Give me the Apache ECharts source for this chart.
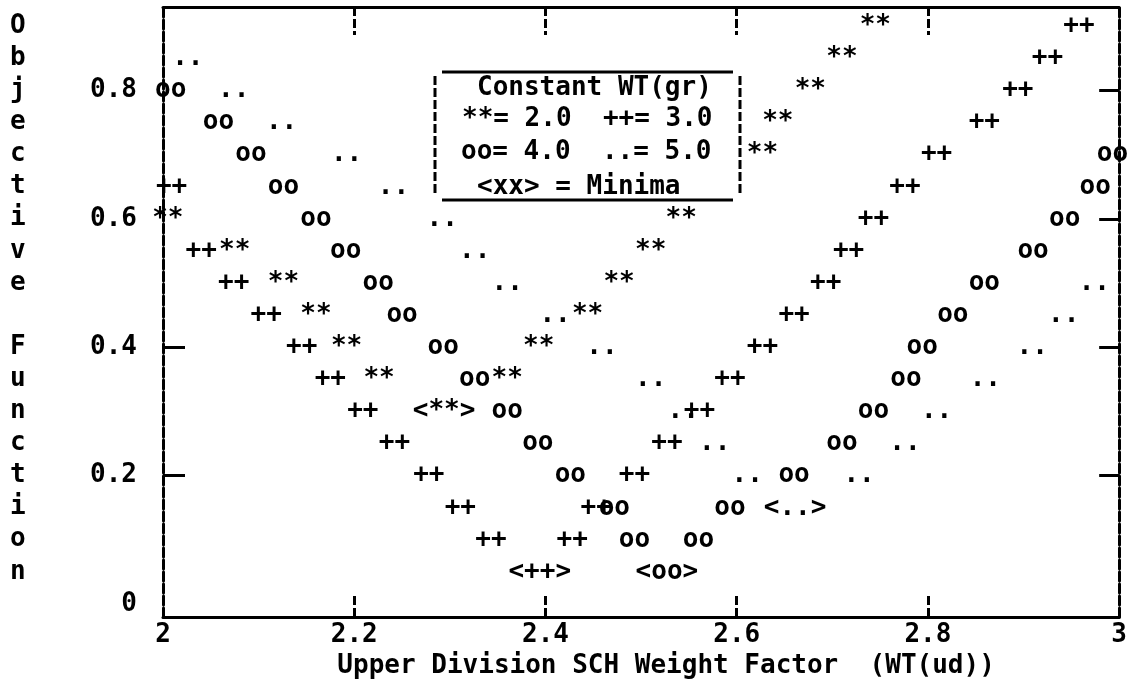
<!DOCTYPE html>
<html>
<head>
<meta charset="utf-8">
<script src="https://cdn.jsdelivr.net/npm/echarts@6/dist/echarts.min.js"></script>
<style>
  html, body { margin: 0; padding: 0; background: #fff; }
  #chart { width: 1130px; height: 685px; }
</style>
</head>
<body>
<div id="chart"></div>
<script>
const FONT = "'DejaVu Sans Mono', monospace";

// objective function vs WT(ud), one curve per constant WT(gr)
const wtGr2 = [ // "**" = 2.0
  [2.005, 0.60], [2.075, 0.55], [2.126, 0.50], [2.160, 0.45], [2.192, 0.40], [2.226, 0.35],
  [2.360, 0.35], [2.393, 0.40], [2.444, 0.45], [2.477, 0.50], [2.510, 0.55], [2.542, 0.60],
  [2.627, 0.70], [2.643, 0.75], [2.677, 0.80], [2.710, 0.85], [2.745, 0.90]
];
const wtGr3 = [ // "++" = 3.0
  [2.009, 0.65], [2.040, 0.55], [2.074, 0.50], [2.108, 0.45], [2.145, 0.40], [2.175, 0.35],
  [2.209, 0.30], [2.242, 0.25], [2.278, 0.20], [2.311, 0.15], [2.343, 0.10],
  [2.428, 0.10], [2.453, 0.15], [2.493, 0.20], [2.527, 0.25], [2.561, 0.30], [2.593, 0.35],
  [2.627, 0.40], [2.660, 0.45], [2.693, 0.50], [2.717, 0.55], [2.743, 0.60], [2.776, 0.65],
  [2.809, 0.70], [2.859, 0.75], [2.894, 0.80], [2.925, 0.85], [2.958, 0.90]
];
const wtGr4 = [ // "oo" = 4.0
  [2.008, 0.80], [2.058, 0.75], [2.092, 0.70], [2.126, 0.65], [2.160, 0.60], [2.191, 0.55],
  [2.225, 0.50], [2.250, 0.45], [2.293, 0.40], [2.326, 0.35], [2.360, 0.30], [2.392, 0.25],
  [2.426, 0.20], [2.472, 0.15], [2.493, 0.10],
  [2.560, 0.10], [2.593, 0.15], [2.660, 0.20], [2.710, 0.25], [2.743, 0.30], [2.777, 0.35],
  [2.794, 0.40], [2.826, 0.45], [2.859, 0.50], [2.910, 0.55], [2.943, 0.60], [2.975, 0.65],
  [2.993, 0.70]
];
const wtGr5 = [ // ".." = 5.0
  [2.026, 0.85], [2.074, 0.80], [2.124, 0.75], [2.192, 0.70], [2.241, 0.65], [2.292, 0.60],
  [2.326, 0.55], [2.360, 0.50], [2.410, 0.45], [2.459, 0.40], [2.510, 0.35], [2.544, 0.30],
  [2.577, 0.25], [2.611, 0.20],
  [2.728, 0.20], [2.776, 0.25], [2.809, 0.30], [2.860, 0.35], [2.909, 0.40], [2.942, 0.45],
  [2.974, 0.50]
];
const minGr2 = [[2.294, 0.30]];
const minGr3 = [[2.394, 0.05]];
const minGr4 = [[2.527, 0.05]];
const minGr5 = [[2.661, 0.15]];

const xTicks = [2.2, 2.4, 2.6, 2.8];
const yLabels = [0, 0.2, 0.4, 0.6, 0.8];
const yTicksLeft = [0.2, 0.4];
const yTicksRight = [0.2, 0.4, 0.6, 0.8];
const xTitle = 'Upper Division SCH Weight Factor  (WT(ud))';
const yTitle = 'Objective Function';
const legendLines = ['Constant WT(gr)', '**= 2.0  ++= 3.0', 'oo= 4.0  ..= 5.0', '<xx> = Minima'];

const txt = { fontFamily: FONT, fontSize: 26, fontWeight: 'bold', color: '#000' };
const dashed = { color: '#000', width: 3, type: [9, 3] };
const solid = { color: '#000', width: 3 };

const markSeries = (data, mark) => ({
  type: 'scatter',
  data: data,
  symbolSize: 0,
  silent: true,
  xAxisIndex: 0,
  yAxisIndex: 0,
  itemStyle: { opacity: 1, color: '#000' },
  label: {
    show: true,
    position: 'inside',
    formatter: mark,
    ...txt,
    opacity: 1,
    textBorderWidth: 0,
    textBorderColor: 'transparent',
  },
});

const chart = echarts.init(document.getElementById('chart'));

const option = {
  animation: false,
  textStyle: { fontFamily: FONT },
  grid: { left: 163, right: 8, top: 7, bottom: 68 },
  xAxis: [
    {
      type: 'value',
      min: 2,
      max: 3,
      interval: 0.2,
      position: 'bottom',
      axisLine: { show: true, onZero: false, lineStyle: solid },
      axisTick: { show: true, inside: true, length: 24, customValues: xTicks, lineStyle: dashed },
      axisLabel: { ...txt, margin: 5, formatter: (v) => String(Math.round(v * 10) / 10) },
      splitLine: { show: false },
      name: xTitle,
      nameLocation: 'middle',
      nameGap: 32,
      nameTextStyle: { ...txt, padding: [0, 0, 0, 50] },
    },
    {
      type: 'value',
      min: 2,
      max: 3,
      interval: 0.2,
      position: 'top',
      axisLine: { show: true, onZero: false, lineStyle: solid },
      axisTick: { show: true, inside: true, length: 28, customValues: xTicks, lineStyle: dashed },
      axisLabel: { show: false },
      splitLine: { show: false },
    },
  ],
  yAxis: [
    {
      type: 'value',
      min: -0.02,
      max: 0.93,
      position: 'left',
      axisLine: { show: true, onZero: false, lineStyle: dashed },
      axisTick: { show: true, inside: true, length: 22, customValues: yTicksLeft, lineStyle: solid },
      axisLabel: {
        ...txt,
        margin: 26,
        customValues: yLabels,
        formatter: (v) => (v === 0 ? '0' : v.toFixed(1)),
      },
      splitLine: { show: false },
    },
    {
      type: 'value',
      min: -0.02,
      max: 0.93,
      position: 'right',
      axisLine: { show: true, onZero: false, lineStyle: dashed },
      axisTick: { show: true, inside: true, length: 20, customValues: yTicksRight, lineStyle: solid },
      axisLabel: { show: false },
      splitLine: { show: false },
    },
  ],
  series: [
    markSeries(wtGr2, '**'),
    markSeries(wtGr3, '++'),
    markSeries(wtGr4, 'oo'),
    markSeries(wtGr5, '..'),
    markSeries(minGr2, '<**>'),
    markSeries(minGr3, '<++>'),
    markSeries(minGr4, '<oo>'),
    markSeries(minGr5, '<..>'),
  ],
  graphic: [
    {
      type: 'text',
      z: 100,
      left: 10,
      top: 10,
      style: {
        text: yTitle.split('').map((c) => (c === ' ' ? '' : c)).join('\n'),
        font: 'bold 26px ' + FONT,
        fill: '#000',
        lineHeight: 32.1,
        align: 'center',
        x: 9,
      },
    },
    {
      type: 'group',
      z: 100,
      children: [
        { type: 'rect', z: 100, shape: { x: 435, y: 72, width: 305, height: 128 }, style: { fill: '#fff' } },
        { type: 'line', z: 101, shape: { x1: 442, y1: 72, x2: 733, y2: 72 }, style: { stroke: '#000', lineWidth: 3 } },
        { type: 'line', z: 101, shape: { x1: 442, y1: 200, x2: 733, y2: 200 }, style: { stroke: '#000', lineWidth: 3 } },
        { type: 'line', z: 101, shape: { x1: 435, y1: 76, x2: 435, y2: 196 }, style: { stroke: '#000', lineWidth: 3, lineDash: [9, 3] } },
        { type: 'line', z: 101, shape: { x1: 740, y1: 76, x2: 740, y2: 196 }, style: { stroke: '#000', lineWidth: 3, lineDash: [9, 3] } },
        { type: 'text', z: 101, x: 477, y: 88, style: { text: legendLines[0], font: 'bold 26px ' + FONT, fill: '#000', verticalAlign: 'middle' } },
        { type: 'text', z: 101, x: 462, y: 119, style: { text: legendLines[1], font: 'bold 26px ' + FONT, fill: '#000', verticalAlign: 'middle' } },
        { type: 'text', z: 101, x: 461, y: 152, style: { text: legendLines[2], font: 'bold 26px ' + FONT, fill: '#000', verticalAlign: 'middle' } },
        { type: 'text', z: 101, x: 477, y: 187, style: { text: legendLines[3], font: 'bold 26px ' + FONT, fill: '#000', verticalAlign: 'middle' } },
      ],
    },
  ],
};

chart.setOption(option);
</script>
</body>
</html>
